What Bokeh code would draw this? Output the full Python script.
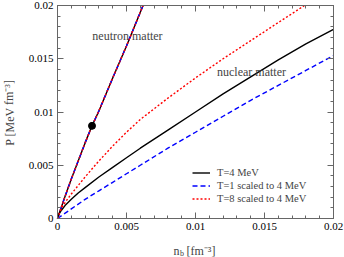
from bokeh.plotting import figure
from bokeh.models import (Range1d, FixedTicker, LinearAxis, Label, Legend, LegendItem)
from bokeh.embed import file_html
from bokeh.resources import INLINE

# ---- data ----
# neutron matter (all three curves coincide)
neut_n = [0, 0.0005, 0.001, 0.0015, 0.002, 0.0025, 0.003, 0.004, 0.005, 0.0062]
neut_P = [0, 0.0019, 0.0037, 0.0054, 0.0071, 0.0087, 0.0101, 0.0132, 0.0162, 0.0200]

# nuclear matter, T=4 MeV
t4_n = [0, 0.0001, 0.0003, 0.0006, 0.001, 0.0015, 0.002, 0.003, 0.004, 0.005, 0.006,
        0.008, 0.01, 0.012, 0.014, 0.016, 0.018, 0.02]
t4_P = [0, 0.0004, 0.0008, 0.0013, 0.0018, 0.0024, 0.0029, 0.0039, 0.0048, 0.0057, 0.0066,
        0.0083, 0.0100, 0.0117, 0.0133, 0.0149, 0.0164, 0.01775]

# nuclear matter, T=1 scaled to 4 MeV
t1_n = [0, 0.001, 0.002, 0.003, 0.004, 0.005, 0.006, 0.008, 0.01, 0.012, 0.014,
        0.016, 0.018, 0.02]
t1_P = [0, 0.0009, 0.0018, 0.0026, 0.0034, 0.0042, 0.0050, 0.0066, 0.0081, 0.0096, 0.0111,
        0.0125, 0.0139, 0.0153]

# nuclear matter, T=8 scaled to 4 MeV
t8_n = [0, 0.0003, 0.0006, 0.001, 0.0015, 0.002, 0.003, 0.004, 0.005, 0.006, 0.008,
        0.010, 0.012, 0.014, 0.016, 0.0179]
t8_P = [0, 0.0010, 0.0016, 0.0023, 0.0031, 0.0039, 0.0054, 0.0068, 0.0081, 0.0093, 0.0113,
        0.0132, 0.0150, 0.0167, 0.0184, 0.0200]

dot_n = [0.0025]
dot_P = [0.0087]

major_ticks = [0, 0.005, 0.01, 0.015, 0.02]
minor_ticks = [i * 0.001 for i in range(21)]
tick_labels = ["0", "0.005", "0.01", "0.015", "0.02"]
legend_labels = ["T=4 MeV", "T=1 scaled to 4 MeV", "T=8 scaled to 4 MeV"]

SERIF = "Liberation Serif"
AX = "#666666"

# plot box in canvas pixels: left 57, right 333, top 5, bottom 218
W, H = 344, 257
L, R, T, B = 57, 333, 5, 218
sx = 0.02 / (R - L)
sy = 0.02 / (B - T)

p = figure(width=W, height=H, output_backend="svg", toolbar_location=None,
           x_range=Range1d(-L * sx, (W - L) * sx),
           y_range=Range1d(-(H - B) * sy, B * sy),
           min_border_left=0, min_border_right=0, min_border_top=0, min_border_bottom=0)
p.xgrid.visible = False
p.ygrid.visible = False
p.outline_line_color = None
p.background_fill_color = "white"
p.border_fill_color = "white"

overrides = {v: t for v, t in zip(major_ticks, tick_labels)}
blank = {v: "" for v in major_ticks}

def style_axis(ax, loc, labels=True):
    ax.fixed_location = loc
    ax.bounds = (0, 0.02)
    ax.ticker = FixedTicker(ticks=major_ticks, minor_ticks=minor_ticks)
    ax.axis_line_color = AX
    ax.major_tick_line_color = AX
    ax.minor_tick_line_color = AX
    ax.major_tick_in = 6
    ax.major_tick_out = 0
    ax.minor_tick_in = 3
    ax.minor_tick_out = 0
    ax.axis_label = None
    ax.major_label_text_font = SERIF
    ax.major_label_text_font_size = "11px"
    ax.major_label_text_color = "black"
    if labels:
        ax.major_label_overrides = overrides
        ax.major_label_standoff = 4
    else:
        ax.major_label_overrides = blank
        ax.major_label_standoff = 0

style_axis(p.xaxis[0], 0)
style_axis(p.yaxis[0], 0)
top = LinearAxis()
right = LinearAxis()
style_axis(top, 0.02, labels=False)
style_axis(right, 0.02, labels=False)
p.add_layout(top, "above")
p.add_layout(right, "right")

# neutron matter curves (overlapping)
p.line(neut_n, neut_P, line_color="black", line_width=1.4)
p.line(neut_n, neut_P, line_color="#0000ff", line_width=1.4, line_dash="5 3")
p.line(neut_n, neut_P, line_color="#ff0000", line_width=1.4, line_dash="2 2")

# nuclear matter curves
r4 = p.line(t4_n, t4_P, line_color="black", line_width=1.4)
r1 = p.line(t1_n, t1_P, line_color="#0000ff", line_width=1.4, line_dash="5 3")
r8 = p.line(t8_n, t8_P, line_color="#ff0000", line_width=1.4, line_dash="2 2")

p.scatter(dot_n, dot_P, size=7, color="black")

legend = Legend(items=[LegendItem(label=legend_labels[0], renderers=[r4]),
                       LegendItem(label=legend_labels[1], renderers=[r1]),
                       LegendItem(label=legend_labels[2], renderers=[r8])],
                location=(192, H - 205), padding=0, margin=0, spacing=0,
                glyph_width=18, glyph_height=13, label_height=13, label_standoff=7,
                label_text_font=SERIF, label_text_font_size="10.5px",
                border_line_color=None, background_fill_alpha=0)
p.add_layout(legend)

p.add_layout(Label(x=0.00507, y=0.01718, text="neutron matter", text_align="center",
                   text_baseline="middle", text_font=SERIF, text_font_size="12px"))
p.add_layout(Label(x=0.01406, y=0.01371, text="nuclear matter", text_align="center",
                   text_baseline="middle", text_font=SERIF, text_font_size="12px"))

# axis titles (canvas pixel positions converted to the frame's data space)
def px(x):
    return (x - L) * sx

def py(y):
    return (B - y) * sy

p.add_layout(Label(x=px(9), y=py(112), text="P [MeV fm⁻³]", angle=1.5708,
                   text_align="center", text_baseline="middle",
                   text_font=SERIF, text_font_size="12px"))
p.add_layout(Label(x=px(173), y=py(250.5), text="n", text_align="left",
                   text_baseline="alphabetic", text_font=SERIF, text_font_size="12px"))
p.add_layout(Label(x=px(179.5), y=py(252.5), text="b", text_align="left",
                   text_baseline="alphabetic", text_font=SERIF, text_font_size="8px"))
p.add_layout(Label(x=px(186), y=py(250.5), text="[fm⁻³]", text_align="left",
                   text_baseline="alphabetic", text_font=SERIF, text_font_size="12px"))

open("out.html", "w").write(file_html(p, INLINE))
